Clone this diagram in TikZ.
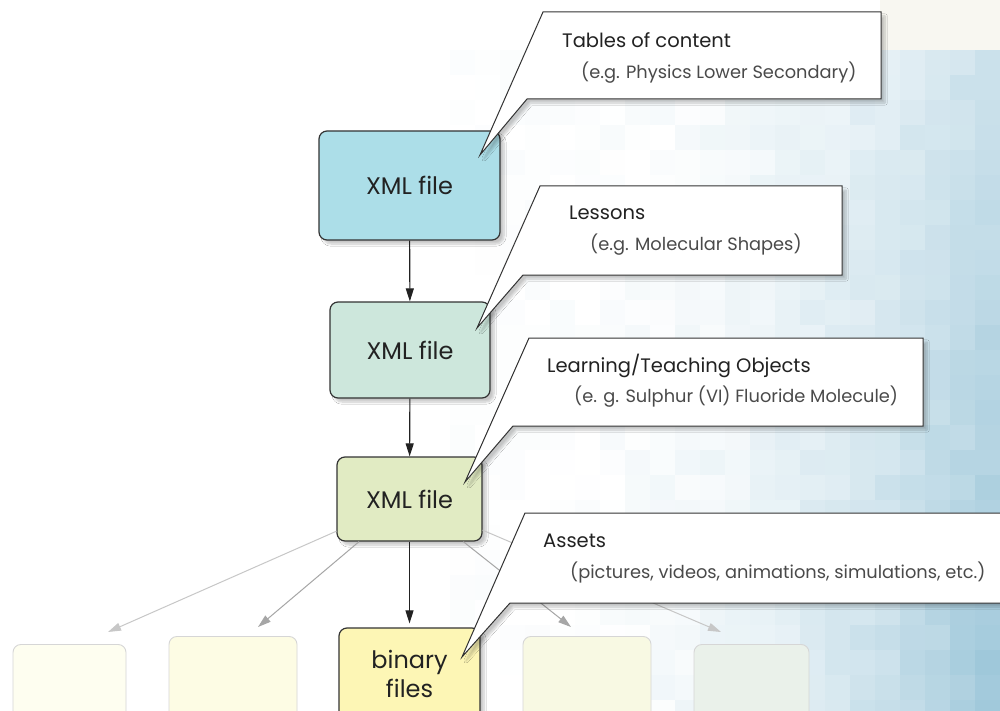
\documentclass[tikz,border=0pt]{standalone}
\usepackage{fontspec}
\setmainfont{Poppins}
\usetikzlibrary{arrows.meta,shadows.blur}

\definecolor{boxline}{HTML}{333333}
\definecolor{textcol}{HTML}{222222}
\definecolor{subcol}{HTML}{4A4A4A}
\definecolor{xmlblue}{HTML}{ACDEE8}
\definecolor{xmlgreen}{HTML}{CDE7DC}
\definecolor{xmlolive}{HTML}{E1EBC3}
\definecolor{binyellow}{HTML}{FDF6B5}
\definecolor{skyblue}{HTML}{95C2D6}
\definecolor{cream}{HTML}{F4F1E8}

\begin{document}
\begin{tikzpicture}[
        %We use pixel units and define some styles
        x=1pt, y=-1pt,
        >={Triangle[length=13pt,width=8pt]},
        soft shadow/.style={blur shadow={shadow xshift=4pt, shadow yshift=-4pt,
                                         shadow opacity=22, shadow blur steps=8}},
        file/.style={draw=boxline, line width=1.2pt, rounded corners=8pt,
                     inner sep=0pt, align=center, text=textcol,
                     font=\fontsize{24}{29}\selectfont, soft shadow},
        asset/.style={draw=black!16, line width=0.9pt, rounded corners=8pt,
                      inner sep=0pt, minimum height=100pt},
        link/.style={->, draw=textcol, line width=1.1pt},
        faint link/.style={->, draw=black!#1, line width=1pt},
        callout/.style={fill=white, draw=boxline, line width=1pt, soft shadow},
        title/.style={anchor=base west, text=textcol, inner sep=0pt,
                      font=\fontsize{19.5}{23}\selectfont},
        example/.style={anchor=base west, text=subcol, inner sep=0pt,
                        font=\fontsize{17.8}{21}\selectfont},
    ]
    \useasboundingbox (0,0) rectangle (1000,711);
    \clip (0,0) rectangle (1000,711);

    % background
    \fill[white] (0,0) rectangle (1000,711);
    \fill[cream!60] (880,0) rectangle (1000,50);
    \pgfmathsetseed{11}
    \foreach \i in {0,...,22}
        \foreach \j in {2,...,28}{
            \pgfmathsetmacro\tint{max(0,min(100,100*(\i/22)^2.4*(0.5+0.5*\j/28)+5*rand))}
            \fill[skyblue!\tint!white] (450+25*\i,25*\j) rectangle +(26,26);
        }

    % files
    \node[file, fill=xmlblue, minimum width=181pt, minimum height=109pt]
        (xmltoc) at (409.5,185.5) {XML file};
    \node[file, fill=xmlgreen, minimum width=160pt, minimum height=96pt]
        (xmllesson) at (410,350) {XML file};
    \node[file, fill=xmlolive, minimum width=145pt, minimum height=84pt]
        (xmlobject) at (409.5,499) {XML file};
    \node[file, fill=binyellow, minimum width=141pt, minimum height=92pt]
        (binary) at (409.5,674) {binary\\files};

    % faded assets
    \node[asset, fill={rgb,255:red,254;green,254;blue,240}, minimum width=113pt, anchor=north]
        (assetA) at (69.5,644) {};
    \node[asset, fill={rgb,255:red,253;green,252;blue,228}, minimum width=128pt, anchor=north]
        (assetB) at (233,636) {};
    \node[asset, fill={rgb,255:red,248;green,249;blue,227}, minimum width=128pt, anchor=north]
        (assetD) at (587,636) {};
    \node[asset, fill={rgb,255:red,234;green,241;blue,234}, minimum width=115pt, anchor=north]
        (assetE) at (751.5,644) {};

    % arrow ends
    \coordinate (endA) at (108,632);
    \coordinate (endB) at (258,627);
    \coordinate (endD) at (571,627);
    \coordinate (endE) at (721,632);

    \draw[faint link=22] (xmlobject) -- (endA);
    \draw[faint link=35] (xmlobject) -- (endB);
    \draw[faint link=35] (xmlobject) -- (endD);
    \draw[faint link=22] (xmlobject) -- (endE);
    \draw[link] (xmltoc) -- (xmllesson);
    \draw[link] (xmllesson) -- (xmlobject);
    \draw[link, shorten >=4pt] (xmlobject) -- (binary);

    % callout tips
    \coordinate (tip1) at (480,155);
    \coordinate (tip2) at (477,328);
    \coordinate (tip3) at (465,482);
    \coordinate (tip4) at (462,657);

    % callouts
    \draw[callout] (543,12) -- (881,12) -- (881,99) -- (527,99) -- (tip1) -- cycle;
    \node[title] (toc) at (562,48) {Tables of content};
    \node[example] (tocex) at (581,79) {(e.g. Physics Lower Secondary)};

    \draw[callout] (540,186) -- (842,186) -- (842,275) -- (523,275) -- (tip2) -- cycle;
    \node[title] (lesson) at (569,220) {Lessons};
    \node[example] (lessonex) at (590,251) {(e.g. Molecular Shapes)};

    \draw[callout] (529,338) -- (923,338) -- (923,426) -- (513,426) -- (tip3) -- cycle;
    \node[title] (object) at (547,372) {Learning/Teaching Objects};
    \node[example] (objectex) at (574,402) {(e. g. Sulphur (VI) Fluoride Molecule)};

    \draw[callout] (525,513) -- (1010,513) -- (1010,603) -- (510,603) -- (tip4) -- cycle;
    \node[title] (asset) at (543,547) {Assets};
    \node[example] (assetex) at (570,578) {(pictures, videos, animations, simulations, etc.)};
\end{tikzpicture}
\end{document}
